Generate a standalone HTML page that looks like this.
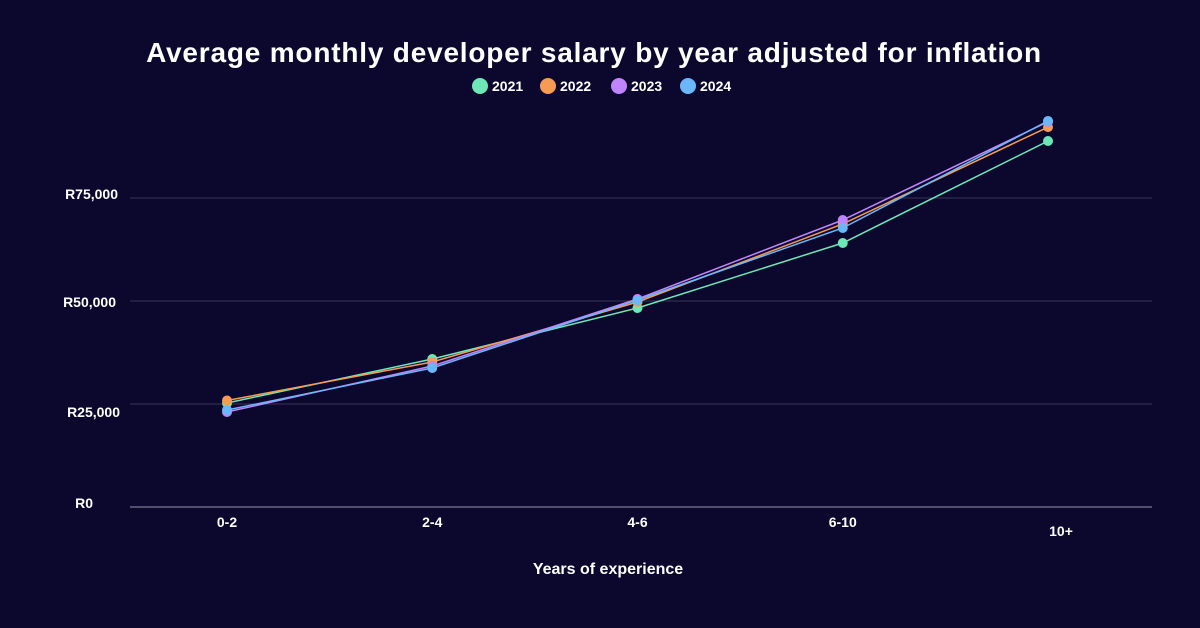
<!DOCTYPE html>
<html><head><meta charset="utf-8"><style>
html,body{margin:0;padding:0;background:#0b072d;width:1200px;height:628px;overflow:hidden}
svg{display:block;font-family:"Liberation Sans",sans-serif}
</style></head><body>
<svg id="chart" width="1200" height="628">
<rect width="1200" height="628" fill="#0b072d"/>
<text x="594" y="62" text-anchor="middle" fill="#fff" font-size="28" font-weight="bold" letter-spacing="0.8">Average monthly developer salary by year adjusted for inflation</text>
<g id="legend"></g>
<g id="grid"></g>
<g id="series"></g>
<text x="608" y="574" text-anchor="middle" fill="#fff" font-size="16" font-weight="bold">Years of experience</text>
</svg>
<script>
const categories=["0-2","2-4","4-6","6-10","10+"];
const years=["2021","2022","2023","2024"];
const colors=["#6ee7b7","#f79a55","#c084fc","#6ab8fb"];
const s2021=[25240,35920,48300,64080,88830];
const s2022=[25850,35190,49760,68700,92200];
const s2023=[23060,34220,50490,69660,93500];
const s2024=[23540,33740,50240,67720,93700];
const yTicks=[0,25000,50000,75000];
const yTickLabels=["R0","R25,000","R50,000","R75,000"];
const series=[s2021,s2022,s2023,s2024];
const NS="http://www.w3.org/2000/svg";
const x=i=>227+i*205.25;
const y=v=>507-v/25000*103;
const labelDy=[1,13,6,1];
const labelX=[93,120,116,118];
function mk(t,a,p){const e=document.createElementNS(NS,t);for(const k in a)e.setAttribute(k,a[k]);p.appendChild(e);return e;}
const grid=document.getElementById('grid');
yTicks.forEach((t,i)=>{
 const l=mk('line',{x1:130,x2:1152,y1:y(t),y2:y(t),stroke:t===0?'#9a97b0':'#3a3658','stroke-width':1},grid);
 
 
 const tx=mk('text',{x:labelX[i],y:y(t)+labelDy[i],'text-anchor':'end',fill:'#fff','font-size':14,'font-weight':'bold'},grid);
 tx.textContent=yTickLabels[i];
 
 
});
categories.forEach((c,i)=>{
 const tx=mk('text',{x:x(i)+(i===4?13:0),y:i===4?536:527,'text-anchor':'middle',fill:'#fff','font-size':14,'font-weight':'bold'},grid);
 tx.textContent=c;
 
 
});
const sg=document.getElementById('series');
series.forEach((s,k)=>{
 const p=mk('polyline',{points:s.map((v,i)=>x(i)+','+y(v)).join(' '),fill:'none',stroke:colors[k],'stroke-width':1.5},sg);
 
 
});
series.forEach((s,k)=>{
 s.forEach((v,i)=>{
  const c=mk('circle',{cx:x(i),cy:y(v),r:5,fill:colors[k]},sg);
  
  
 });
});
const lg=document.getElementById('legend');
const lx=[480,548,619,688];
years.forEach((yr,k)=>{
 const c=mk('circle',{cx:lx[k],cy:86,r:8,fill:colors[k]},lg);
 
 
 const t=mk('text',{x:lx[k]+12,y:91,fill:'#fff','font-size':14,'font-weight':'bold'},lg);
 t.textContent=yr;
 
 
});
</script>
</body></html>
